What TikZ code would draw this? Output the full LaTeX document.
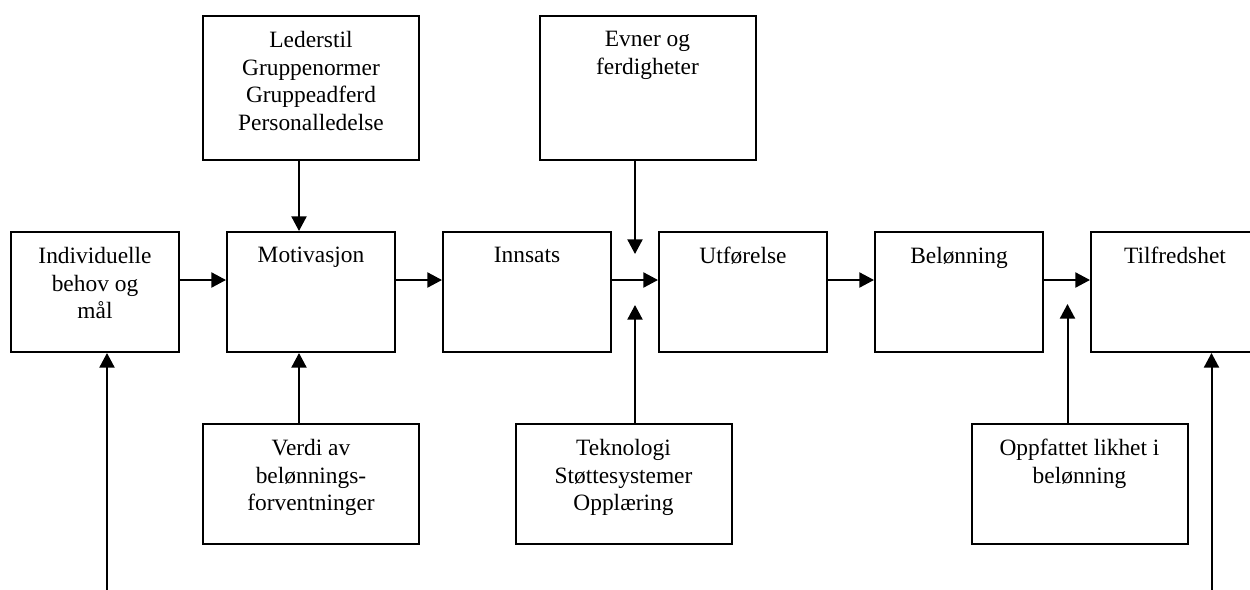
\documentclass[tikz,border=0pt]{standalone}
\usepackage{fontspec}
\setmainfont{Liberation Serif}
\usetikzlibrary{positioning, arrows.meta}

\begin{document}
\begin{tikzpicture}[
            x=0.5pt, y=-0.5pt,
            blokk/.style={draw=black, line width=1pt, rectangle, inner sep=0pt, minimum width=84pt, minimum height=60pt},
            sideblokk/.style={blokk, minimum width=108pt},
            hoyblokk/.style={sideblokk, minimum height=72pt},
            tekst/.style={align=center, inner sep=0pt, font=\fontsize{11.7}{13.8}\selectfont},
            pil/.style={line width=1pt, -{Triangle[length=7.3pt, width=7.5pt]}}
        ]
        \useasboundingbox (0,0) rectangle (1250,590);
        \clip (0,0) rectangle (1250,590);

        % Hovedrekke
        \node[blokk] (behov) at (95,292) {};
        \node[blokk, right=23pt of behov] (motiv) {};
        \node[blokk, right=23pt of motiv] (innsats) {};
        \node[blokk, right=23pt of innsats] (utf) {};
        \node[blokk, right=23pt of utf] (beloen) {};
        \node[blokk, right=23pt of beloen] (tilfr) {};

        % Faktorer over og under
        \node[hoyblokk, above=35pt of motiv] (leder) {};
        \node[hoyblokk] (evner) at (647.5,88) {};
        \node[sideblokk, below=35pt of motiv] (verdi) {};
        \node[sideblokk] (tekno) at (623.5,484) {};
        \node[sideblokk] (oppf) at (1079.5,484) {};

        % Tekster
        \node[tekst, below=8pt of behov.north] (behov-t) {Individuelle\\behov og\\mål};
        \node[tekst, below=8pt of motiv.north] (motiv-t) {Motivasjon};
        \node[tekst, below=8pt of innsats.north] (innsats-t) {Innsats};
        \node[tekst, below=8pt of utf.north] (utf-t) {Utførelse};
        \node[tekst, below=8pt of beloen.north] (beloen-t) {Belønning};
        \node[tekst, below=8pt of tilfr.north] (tilfr-t) {Tilfredshet};
        \node[tekst, below=8pt of leder.north] (leder-t) {Lederstil\\Gruppenormer\\Gruppeadferd\\Personalledelse};
        \node[tekst, below=8pt of evner.north] (evner-t) {Evner og\\ferdigheter};
        \node[tekst, below=8pt of verdi.north] (verdi-t) {Verdi av\\belønnings-\\forventninger};
        \node[tekst, below=8pt of tekno.north] (tekno-t) {Teknologi\\Støttesystemer\\Opplæring};
        \node[tekst, below=8pt of oppf.north] (oppf-t) {Oppfattet likhet i\\belønning};

        % Hjelpepunkter
        \coordinate (rad) at (0,280);
        \coordinate (k1) at (299,0);
        \coordinate (spiss1) at (635,254);
        \coordinate (spiss2) at (635,305);
        \coordinate (spiss3) at (1067.5,304);
        \coordinate (fot1) at (107,590);
        \coordinate (fot2) at (1211.5,590);

        % Piler
        \draw[pil] (behov.east |- rad) -- (motiv.west |- rad);
        \draw[pil] (motiv.east |- rad) -- (innsats.west |- rad);
        \draw[pil] (innsats.east |- rad) -- (utf.west |- rad);
        \draw[pil] (utf.east |- rad) -- (beloen.west |- rad);
        \draw[pil] (beloen.east |- rad) -- (tilfr.west |- rad);
        \draw[pil] (leder.south -| k1) -- (motiv.north -| k1);
        \draw[pil] (verdi.north -| k1) -- (motiv.south -| k1);
        \draw[pil] (evner.south -| spiss1) -- (spiss1);
        \draw[pil] (tekno.north -| spiss2) -- (spiss2);
        \draw[pil] (oppf.north -| spiss3) -- (spiss3);
        \draw[pil] (fot1) -- (behov.south -| fot1);
        \draw[pil] (fot2) -- (tilfr.south -| fot2);

    \end{tikzpicture}
\end{document}
